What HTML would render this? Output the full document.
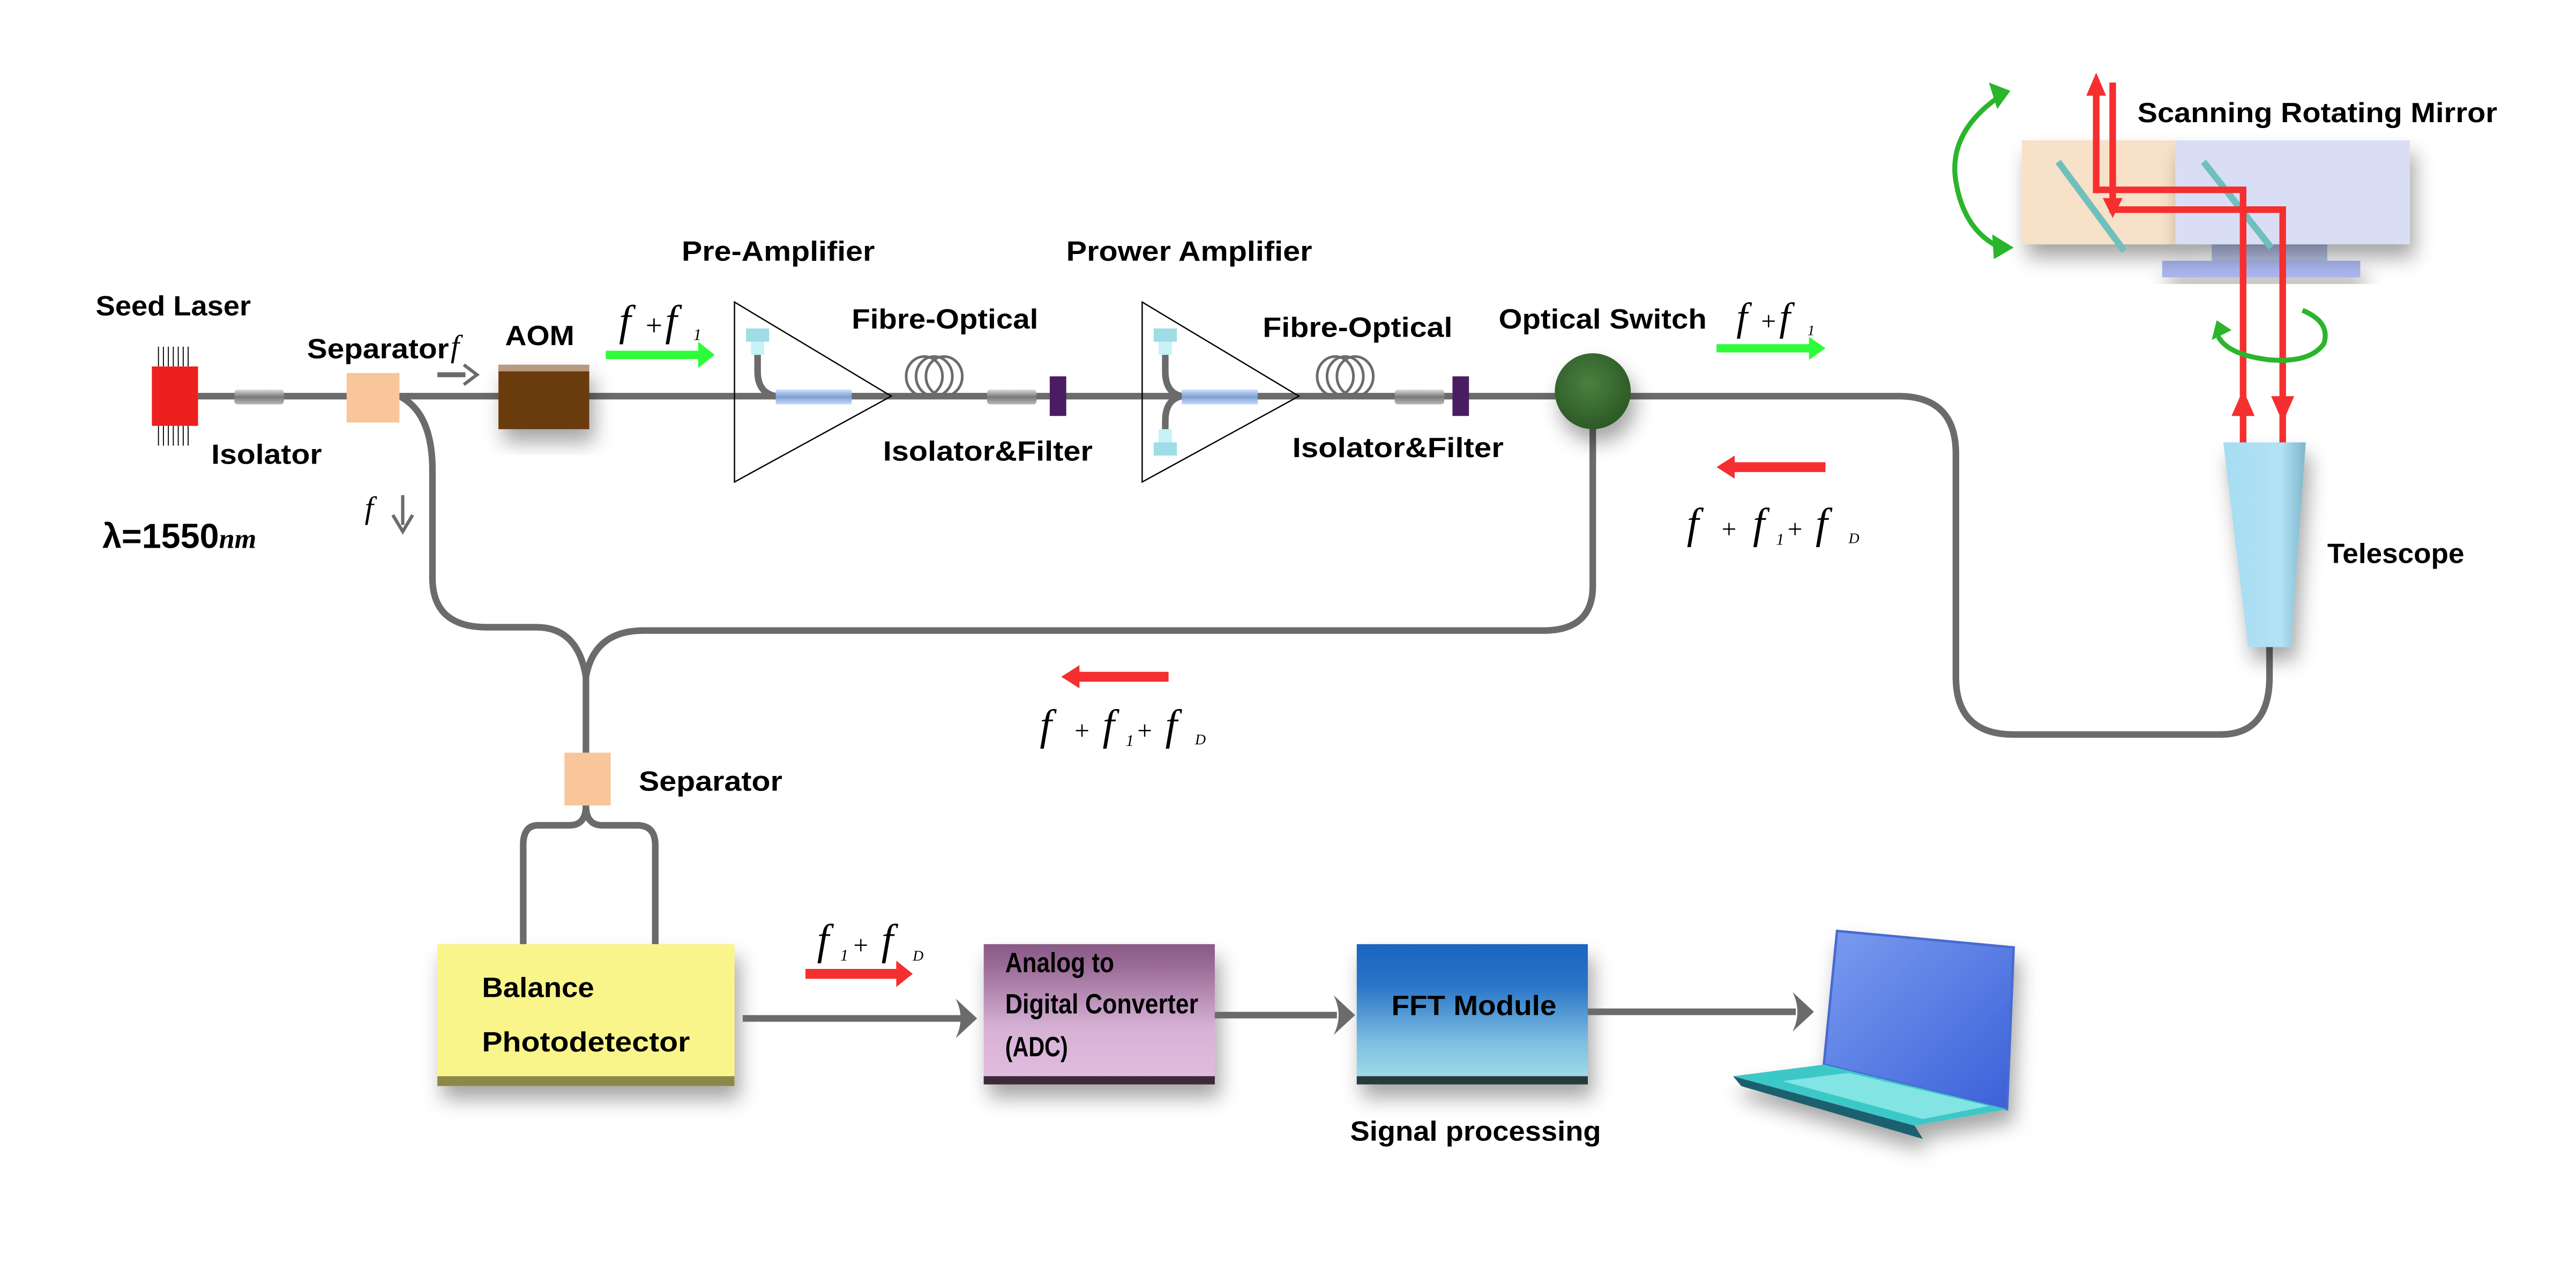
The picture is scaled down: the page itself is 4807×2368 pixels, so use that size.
<!DOCTYPE html>
<html><head><meta charset="utf-8"><style>
html,body{margin:0;padding:0;background:#fff;}
svg{display:block;}
.t{font-family:"Liberation Sans Narrow","Liberation Sans",sans-serif;font-weight:bold;font-size:17px;fill:#000;}
.m{font-family:"Liberation Serif",serif;font-style:italic;fill:#000;}
</style></head><body>
<svg width="4807" height="2368" viewBox="0 0 1560.7 768.8" xmlns="http://www.w3.org/2000/svg">
<defs>
<linearGradient id="cyl" x1="0" y1="0" x2="0" y2="1"><stop offset="0" stop-color="#ddd"/><stop offset=".5" stop-color="#777"/><stop offset="1" stop-color="#bbb"/></linearGradient>
<linearGradient id="gain" x1="0" y1="0" x2="0" y2="1"><stop offset="0" stop-color="#cde0ff"/><stop offset=".5" stop-color="#7f9fd0"/><stop offset="1" stop-color="#c8dcff"/></linearGradient>
<linearGradient id="adc" x1="0" y1="0" x2="0" y2="1"><stop offset="0" stop-color="#8a5a86"/><stop offset=".15" stop-color="#9a6a96"/><stop offset=".6" stop-color="#d7b2d6"/><stop offset="1" stop-color="#e2bde0"/></linearGradient>
<linearGradient id="fft" x1="0" y1="0" x2="0" y2="1"><stop offset="0" stop-color="#1a64c0"/><stop offset=".3" stop-color="#2a75c8"/><stop offset=".7" stop-color="#7fbfe0"/><stop offset="1" stop-color="#a5e0ea"/></linearGradient>
<radialGradient id="sw" cx=".45" cy=".4" r=".6"><stop offset="0" stop-color="#4a8040"/><stop offset="1" stop-color="#2c5a25"/></radialGradient>
<linearGradient id="tel" x1="0" y1="0" x2="1" y2="0"><stop offset="0" stop-color="#a6dcf2"/><stop offset=".7" stop-color="#b2e2f5"/><stop offset="1" stop-color="#7fb6cc"/></linearGradient>
<linearGradient id="lap" x1="0" y1="0" x2="1" y2="1"><stop offset="0" stop-color="#7a9cf0"/><stop offset="1" stop-color="#3a60d8"/></linearGradient>
<filter id="sh" x="-20%" y="-20%" width="150%" height="160%"><feDropShadow dx="3" dy="8" stdDeviation="6" flood-color="#000" flood-opacity=".35"/></filter>
</defs>

<!-- fibers -->
<g fill="none" stroke="#6b6b6b" stroke-width="4">
<path d="M120 240 H1150 Q1185 240 1185 275 V410 Q1185 445 1220 445 H1345 Q1375 445 1375 410 V392"/>
<path d="M242 240 Q262 250 262 285 V350 Q262 380 295 380 H325 Q350 380 355 410"/>
<path d="M965 255 V355 Q965 382 935 382 H390 Q360 382 355 410"/>
<path d="M355 410 V456"/>
<path d="M355 488 Q355 500 345 500 H326 Q317 500 317 512 V572"/>
<path d="M355 488 Q355 500 365 500 H386 Q397 500 397 512 V572"/>
<path d="M459 210 V225 Q459 238 470 240"/>
<path d="M706 210 V225 Q706 238 716 240"/>
<path d="M706 270 V255 Q706 242 716 240"/>
</g>
<!-- coils -->
<g fill="none" stroke="#6b6b6b" stroke-width="1.6">
<ellipse cx="560" cy="228" rx="11" ry="12"/><ellipse cx="566" cy="228" rx="11" ry="12"/><ellipse cx="572" cy="228" rx="11" ry="12"/>
<ellipse cx="809" cy="228" rx="11" ry="12"/><ellipse cx="815" cy="228" rx="11" ry="12"/><ellipse cx="821" cy="228" rx="11" ry="12"/>
</g>

<!-- seed laser -->
<g stroke="#000" stroke-width=".6">
<path d="M96 210V222M99 210V222M102 210V222M105 210V222M108 210V222M111 210V222M114 210V222M96 258V270M99 258V270M102 258V270M105 258V270M108 258V270M111 258V270M114 258V270"/>
</g>
<rect x="92" y="222" width="28" height="36" fill="#ee1f1f"/>
<rect x="142" y="236" width="30" height="9" rx="2" fill="url(#cyl)"/>
<rect x="210" y="226" width="32" height="30" fill="#f8c69a"/>
<path d="M265 227 H282" stroke="#6b6b6b" stroke-width="3"/><path d="M281 221 L289 227 L281 233" fill="none" stroke="#6b6b6b" stroke-width="2"/>
<rect x="302" y="221" width="55" height="39" fill="#6b3a10" filter="url(#sh)"/>
<rect x="302" y="221" width="55" height="4" fill="#b89a80"/>
<path d="M367 215 H425" stroke="#2dfc3a" stroke-width="5"/><path d="M423 207 L433 215 L423 223Z" fill="#2dfc3a"/>

<!-- pre amp -->
<path d="M445 183 L540 240 L445 292 Z" fill="none" stroke="#000" stroke-width=".8"/>
<rect x="452" y="199" width="14" height="8" fill="#9edce6"/><rect x="455" y="207" width="8" height="8" fill="#c6f2f8"/>
<rect x="470" y="236" width="46" height="9" fill="url(#gain)"/>
<rect x="598" y="236" width="30" height="9" rx="2" fill="url(#cyl)"/>
<rect x="636" y="228" width="10" height="24" fill="#4a1d62"/>

<!-- power amp -->
<path d="M692 183 L787 240 L692 292 Z" fill="none" stroke="#000" stroke-width=".8"/>
<rect x="699" y="199" width="14" height="8" fill="#9edce6"/><rect x="702" y="207" width="8" height="8" fill="#c6f2f8"/>
<rect x="702" y="260" width="8" height="8" fill="#c6f2f8"/><rect x="699" y="268" width="14" height="8" fill="#9edce6"/>
<rect x="716" y="236" width="46" height="9" fill="url(#gain)"/>
<rect x="845" y="236" width="30" height="9" rx="2" fill="url(#cyl)"/>
<rect x="880" y="228" width="10" height="24" fill="#4a1d62"/>

<!-- optical switch -->
<ellipse cx="965" cy="237" rx="23" ry="23" fill="url(#sw)" filter="url(#sh)"/>

<!-- arrows right side -->
<path d="M1040 211 H1098" stroke="#2dfc3a" stroke-width="5"/><path d="M1096 204 L1106 211 L1096 218Z" fill="#2dfc3a"/>
<path d="M1050 283 H1106" stroke="#f52f2f" stroke-width="6"/><path d="M1051 276 L1040 283 L1051 290Z" fill="#f52f2f"/>
<path d="M653 410 H708" stroke="#f52f2f" stroke-width="6"/><path d="M654 403 L643 410 L654 417Z" fill="#f52f2f"/>
<path d="M488 590 H544" stroke="#f52f2f" stroke-width="6"/><path d="M543 582 L553 590 L543 598Z" fill="#f52f2f"/>
<path d="M244 300 V318" stroke="#6b6b6b" stroke-width="2"/><path d="M238 312 L244 322 L250 312" fill="none" stroke="#6b6b6b" stroke-width="2"/>

<!-- mirror assembly -->
<rect x="1340" y="148" width="70" height="12" fill="#b9c4ea"/>
<rect x="1310" y="158" width="120" height="10" fill="#a9b6ee" filter="url(#sh)"/>
<rect x="1225" y="85" width="95" height="63" fill="#f7e1c9" filter="url(#sh)"/>
<rect x="1318" y="85" width="142" height="63" fill="#d9def5" filter="url(#sh)"/>
<path d="M1247 98 L1287 152" stroke="#6fc0bd" stroke-width="4"/>
<path d="M1335 98 L1376 150" stroke="#6fc0bd" stroke-width="4"/>
<g fill="none" stroke="#f52f2f" stroke-width="4">
<path d="M1270 55 V115 H1359 V268"/>
<path d="M1280 50 V127 H1383 V268"/>
</g>
<path d="M1264 58 L1270 44 L1276 58Z" fill="#f52f2f"/>
<path d="M1274 120 L1280 132 L1286 120Z" fill="#f52f2f"/>
<path d="M1352 252 L1359 236 L1366 252Z" fill="#f52f2f"/>
<path d="M1376 240 L1383 256 L1390 240Z" fill="#f52f2f"/>
<path d="M1347 268 H1397 L1388 392 H1362 Z" fill="url(#tel)" filter="url(#sh)"/>
<!-- green rotation arrows -->
<path d="M1212 58 Q1180 80 1185 110 Q1190 140 1212 150" fill="none" stroke="#2bb52b" stroke-width="3"/>
<path d="M1205 50 L1218 55 L1210 66Z" fill="#2bb52b"/><path d="M1207 142 L1220 150 L1208 157Z" fill="#2bb52b"/>
<path d="M1395 188 Q1412 195 1408 208 Q1400 220 1375 218 Q1350 215 1344 204" fill="none" stroke="#2bb52b" stroke-width="3"/>
<path d="M1340 206 L1343 194 L1352 200Z" fill="#2bb52b"/>

<!-- bottom chain -->
<rect x="342" y="456" width="28" height="32" fill="#f8c69a"/>
<rect x="265" y="572" width="180" height="86" fill="#f9f58a" filter="url(#sh)"/>
<rect x="265" y="652" width="180" height="6" fill="#8c884a"/>
<rect x="596" y="572" width="140" height="85" fill="url(#adc)" filter="url(#sh)"/>
<rect x="596" y="652" width="140" height="5" fill="#3c2a3a"/>
<rect x="822" y="572" width="140" height="85" fill="url(#fft)" filter="url(#sh)"/>
<rect x="822" y="652" width="140" height="5" fill="#2a3a3a"/>
<g stroke="#6b6b6b" stroke-width="4" fill="none">
<path d="M450 617 H582"/><path d="M736 615 H810"/><path d="M962 613 H1088"/>
</g>
<g fill="#6b6b6b">
<path d="M579 605 L592 617 L579 629 Q585 617 579 605Z"/>
<path d="M808 603 L821 615 L808 627 Q814 615 808 603Z"/>
<path d="M1086 601 L1099 613 L1086 625 Q1092 613 1086 601Z"/>
</g>
<!-- laptop -->
<g filter="url(#sh)">
<path d="M1113 564 L1220 574 L1216 672 L1105 645 Z" fill="url(#lap)" stroke="#4a6ad0" stroke-width="1.5"/>
<path d="M1105 645 L1216 672 L1160 682 L1050 652 Z" fill="#3cc8c8"/>
<path d="M1050 652 L1160 682 L1165 690 L1055 658Z" fill="#1a6070"/>
<path d="M1120 650 L1205 670 L1165 678 L1080 655Z" fill="#9ff0ee" opacity=".7"/>
</g>

<!-- labels -->
<text class="t" x="58" y="191" textLength="94" lengthAdjust="spacingAndGlyphs">Seed Laser</text>
<text class="t" x="128" y="281" textLength="67" lengthAdjust="spacingAndGlyphs">Isolator</text>
<text class="t" x="186" y="217" textLength="86" lengthAdjust="spacingAndGlyphs">Separator</text>
<text class="m" x="273" y="216" font-size="19">f</text>
<text class="t" x="306" y="209" textLength="42" lengthAdjust="spacingAndGlyphs">AOM</text>
<text class="m" x="375" y="203" font-size="26">f</text><text class="m" x="390" y="203" font-size="18">+</text><text class="m" x="403" y="203" font-size="26">f</text><text class="m" x="420" y="206" font-size="10">1</text>
<text class="t" x="413" y="158" textLength="117" lengthAdjust="spacingAndGlyphs">Pre-Amplifier</text>
<text class="t" x="646" y="158" textLength="149" lengthAdjust="spacingAndGlyphs">Prower Amplifier</text>
<text class="t" x="516" y="199" textLength="113" lengthAdjust="spacingAndGlyphs">Fibre-Optical</text>
<text class="t" x="765" y="204" textLength="115" lengthAdjust="spacingAndGlyphs">Fibre-Optical</text>
<text class="t" x="535" y="279" textLength="127" lengthAdjust="spacingAndGlyphs">Isolator&amp;Filter</text>
<text class="t" x="783" y="277" textLength="128" lengthAdjust="spacingAndGlyphs">Isolator&amp;Filter</text>
<text class="t" x="908" y="199" textLength="126" lengthAdjust="spacingAndGlyphs">Optical Switch</text>
<text class="m" x="1052" y="200" font-size="24">f</text><text class="m" x="1066" y="200" font-size="16">+</text><text class="m" x="1078" y="200" font-size="24">f</text><text class="m" x="1095" y="203" font-size="9">1</text>
<text class="m" x="1022" y="326" font-size="26">f</text><text class="m" x="1042" y="326" font-size="16">+</text><text class="m" x="1062" y="326" font-size="26">f</text><text class="m" x="1076" y="330" font-size="10">1</text><text class="m" x="1082" y="326" font-size="16">+</text><text class="m" x="1100" y="326" font-size="26">f</text><text class="m" x="1120" y="329" font-size="9">D</text>
<text class="m" x="630" y="448" font-size="26">f</text><text class="m" x="650" y="448" font-size="16">+</text><text class="m" x="668" y="448" font-size="26">f</text><text class="m" x="682" y="452" font-size="10">1</text><text class="m" x="688" y="448" font-size="16">+</text><text class="m" x="706" y="448" font-size="26">f</text><text class="m" x="724" y="451" font-size="9">D</text>
<text class="m" x="495" y="578" font-size="26">f</text><text class="m" x="509" y="582" font-size="10">1</text><text class="m" x="516" y="578" font-size="16">+</text><text class="m" x="534" y="578" font-size="26">f</text><text class="m" x="553" y="582" font-size="9">D</text>
<text class="m" x="221" y="314" font-size="19">f</text>
<text class="t" x="1295" y="74" textLength="218" lengthAdjust="spacingAndGlyphs">Scanning Rotating Mirror</text>
<text class="t" x="1410" y="341" textLength="83" lengthAdjust="spacingAndGlyphs">Telescope</text>
<text x="62" y="332" font-family="Liberation Sans Narrow,Liberation Sans,sans-serif" font-weight="bold" font-size="21">λ=1550<tspan font-family="Liberation Serif,serif" font-style="italic" font-size="17">nm</tspan></text>
<text class="t" x="387" y="479" textLength="87" lengthAdjust="spacingAndGlyphs">Separator</text>
<text class="t" x="292" y="604" textLength="68" lengthAdjust="spacingAndGlyphs">Balance</text>
<text class="t" x="292" y="637" textLength="126" lengthAdjust="spacingAndGlyphs">Photodetector</text>
<text class="t" x="609" y="589" font-size="13" textLength="66" lengthAdjust="spacingAndGlyphs">Analog to</text>
<text class="t" x="609" y="614" font-size="13" textLength="117" lengthAdjust="spacingAndGlyphs">Digital Converter</text>
<text class="t" x="609" y="640" font-size="13" textLength="38" lengthAdjust="spacingAndGlyphs">(ADC)</text>
<text class="t" x="843" y="615" textLength="100" lengthAdjust="spacingAndGlyphs">FFT Module</text>
<text class="t" x="818" y="691" textLength="152" lengthAdjust="spacingAndGlyphs">Signal processing</text>
</svg>
</body></html>
